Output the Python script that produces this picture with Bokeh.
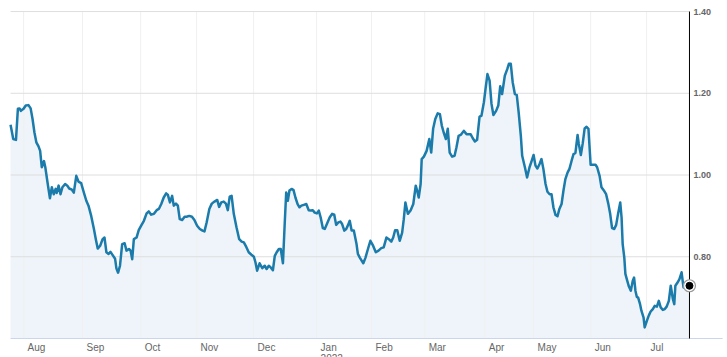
from bokeh.plotting import figure
from bokeh.models import Range1d
from bokeh.core.properties import value
from bokeh.embed import file_html
from bokeh.resources import INLINE

# trading-day index since start (late Jul 2021) and closing values
days = [0, 1.0, 2.0, 2.7, 3.3, 3.8, 4.8, 5.6, 6.6, 7.4, 8.1, 8.8, 9.5, 10.3, 10.9, 11.5, 12.3, 12.8, 13.7, 14.5,
        15.2, 15.9, 16.6, 17.0, 17.7, 18.4, 19.1, 20.1, 20.9, 21.6, 22.6, 23.3, 24.2, 25.0, 26.0, 27.0, 27.9, 28.7,
        29.7, 30.7, 31.4, 32.1, 33.0, 33.9, 34.6, 35.3, 36.1, 36.8, 37.6, 38.5, 39.0, 39.6, 40.3, 41.1, 42.0, 42.7,
        43.6, 44.2, 44.8, 45.4, 46.4, 47.2, 48.1, 49.1, 50.1, 50.9, 51.8, 52.8, 53.8, 54.6, 55.5, 56.4, 57.3, 57.9,
        58.7, 59.5, 60.1, 60.9, 61.6, 62.3, 63.2, 64.1, 64.8, 65.8, 66.8, 67.7, 68.7, 69.7, 70.7, 71.4, 72.2, 73.2,
        74.1, 75.1, 76.1, 76.8, 77.6, 78.5, 79.3, 80.0, 80.7, 81.4, 82.2, 83.2, 84.2, 85.1, 85.9, 86.8, 87.7, 88.7,
        89.6, 90.2, 90.8, 91.7, 92.7, 93.6, 94.3, 95.1, 95.8, 96.6, 97.3, 98.0, 98.8, 99.5, 100.3, 101.0, 101.5,
        102.1, 102.7, 103.5, 104.2, 104.9, 105.7, 106.4, 107.1, 108.0, 108.9, 109.8, 110.6, 111.3, 112.0, 112.8,
        113.5, 114.2, 115.0, 115.7, 116.6, 117.5, 118.4, 119.2, 119.9, 120.7, 121.5, 122.1, 122.9, 123.6, 124.3,
        124.9, 125.6, 126.4, 127.4, 127.9, 128.6, 129.9, 130.7, 131.6, 132.5, 133.5, 134.5, 135.5, 136.5, 137.4,
        138.4, 139.3, 140.2, 140.9, 141.6, 142.4, 143.3, 144.2, 144.8, 145.4, 146.3, 147.3, 148.3, 149.2, 149.7,
        150.3, 151.0, 151.4, 152.2, 153.2, 154.2, 154.9, 155.6, 156.4, 157.3, 158.1, 158.8, 159.5, 160.3, 161.0,
        161.7, 162.6, 163.5, 164.2, 165.0, 165.9, 166.9, 167.9, 168.9, 169.4, 170.2, 171.0, 171.8, 172.7, 173.4,
        174.3, 174.9, 175.6, 176.4, 177.1, 177.8, 178.8, 179.6, 180.3, 181.0, 182.0, 182.9, 183.5, 184.2, 184.9,
        185.7, 186.4, 187.1, 187.9, 188.4, 189.4, 190.2, 191.1, 191.8, 192.6, 193.3, 194.0, 194.8, 195.5, 196.2,
        197.0, 197.7, 198.5, 199.2, 199.9, 200.7, 201.4, 202.1, 202.9, 203.6, 204.3, 205.1, 205.8, 206.6, 207.3,
        208.0, 208.8, 209.2, 210.0, 210.7, 211.4, 212.1, 212.8, 213.6, 214.4, 215.4, 216.0, 216.9, 217.6, 218.4,
        219.3, 220.1, 220.8, 221.5, 222.3, 223.0, 223.7, 224.5, 225.0, 225.4, 226.0, 226.4, 227.1, 227.7, 228.4,
        229.1, 229.6, 230.1, 230.6, 231.1, 231.8, 232.3, 233.1, 233.5, 234.3, 235.0, 235.7, 236.5, 237.2, 238.0,
        238.7, 239.4, 240.2, 240.9, 241.6, 242.4, 243.1, 243.9, 244.4, 244.8, 245.6, 246.3, 247.1, 247.8, 248.5,
        249.3, 250.0]
values = [1.123, 1.088, 1.086, 1.162, 1.163, 1.157, 1.162, 1.170, 1.171, 1.163, 1.137, 1.104, 1.080, 1.070, 1.059,
          1.019, 1.034, 1.019, 0.978, 0.943, 0.970, 0.953, 0.966, 0.956, 0.974, 0.953, 0.970, 0.978, 0.974, 0.967,
          0.964, 0.957, 0.998, 0.984, 0.980, 0.957, 0.937, 0.925, 0.900, 0.868, 0.843, 0.820, 0.827, 0.843, 0.847,
          0.811, 0.807, 0.812, 0.804, 0.795, 0.771, 0.761, 0.778, 0.831, 0.833, 0.815, 0.819, 0.815, 0.794, 0.843,
          0.847, 0.865, 0.876, 0.888, 0.906, 0.911, 0.903, 0.905, 0.914, 0.917, 0.929, 0.945, 0.955, 0.952, 0.933,
          0.949, 0.925, 0.930, 0.925, 0.892, 0.890, 0.898, 0.898, 0.900, 0.898, 0.890, 0.876, 0.868, 0.864, 0.862,
          0.884, 0.917, 0.930, 0.935, 0.939, 0.922, 0.933, 0.935, 0.930, 0.914, 0.947, 0.949, 0.905, 0.872, 0.843,
          0.837, 0.835, 0.824, 0.811, 0.805, 0.800, 0.786, 0.766, 0.784, 0.772, 0.778, 0.770, 0.778, 0.774, 0.767,
          0.802, 0.811, 0.819, 0.819, 0.784, 0.888, 0.957, 0.937, 0.962, 0.966, 0.963, 0.945, 0.929, 0.921, 0.925,
          0.927, 0.929, 0.914, 0.913, 0.914, 0.908, 0.906, 0.913, 0.896, 0.870, 0.868, 0.882, 0.896, 0.905, 0.903,
          0.878, 0.884, 0.886, 0.880, 0.864, 0.868, 0.878, 0.888, 0.864, 0.864, 0.831, 0.807, 0.798, 0.784, 0.798,
          0.819, 0.839, 0.827, 0.811, 0.815, 0.821, 0.823, 0.847, 0.843, 0.837, 0.847, 0.865, 0.865, 0.839, 0.859,
          0.892, 0.933, 0.905, 0.913, 0.929, 0.974, 0.962, 0.945, 0.978, 1.039, 1.045, 1.059, 1.088, 1.055, 1.113,
          1.137, 1.151, 1.149, 1.121, 1.104, 1.088, 1.113, 1.055, 1.045, 1.047, 1.068, 1.096, 1.099, 1.108, 1.100,
          1.100, 1.100, 1.090, 1.082, 1.086, 1.143, 1.145, 1.178, 1.211, 1.247, 1.231, 1.174, 1.147, 1.157, 1.170,
          1.217, 1.198, 1.243, 1.259, 1.272, 1.272, 1.227, 1.198, 1.196, 1.153, 1.096, 1.047, 1.019, 0.994, 1.019,
          1.033, 1.049, 1.023, 1.016, 1.027, 1.039, 1.015, 0.978, 0.959, 0.953, 0.953, 0.921, 0.902, 0.899, 0.917,
          0.929, 0.962, 0.990, 1.006, 1.015, 1.035, 1.051, 1.054, 1.098, 1.078, 1.049, 1.078, 1.114, 1.118, 1.113,
          1.025, 1.025, 1.025, 1.019, 0.998, 0.970, 0.963, 0.953, 0.930, 0.905, 0.870, 0.868, 0.878, 0.905, 0.933,
          0.896, 0.831, 0.798, 0.758, 0.741, 0.727, 0.717, 0.741, 0.749, 0.717, 0.702, 0.700, 0.684, 0.668, 0.651,
          0.627, 0.643, 0.656, 0.666, 0.672, 0.680, 0.678, 0.692, 0.676, 0.670, 0.672, 0.678, 0.692, 0.729, 0.696,
          0.684, 0.729, 0.737, 0.745, 0.762, 0.725, 0.733, 0.737, 0.729]

month_pos = [4.8, 26.5, 47.9, 68.5, 89.5, 112.7, 132.9, 152.5, 174.6, 192.6, 213.6, 234.2]
month_labels = ["Aug", "Sep", "Oct", "Nov", "Dec", "Jan", "Feb", "Mar", "Apr", "May", "Jun", "Jul"]
year_label = ["2022"]
year_pos = [month_pos[5]]
y_ticks = [0.80, 1.00, 1.20, 1.40]
y_tick_labels = ["0.80", "1.00", "1.20", "1.40"]
y_min, y_max = 0.60, 1.40

LINE = "#1b7bab"
FILL = "#eef4f9"
TXT = "#666666"
FONT = "Liberation Sans"

x0, x1 = days[0], days[-1]
p = figure(width=727, height=357, output_backend="svg", toolbar_location=None,
           x_range=Range1d(x0 - 3.7, x1 + 14.0), y_range=Range1d(y_min - 0.0465, y_max + 0.027),
           min_border=0, x_axis_location=None, y_axis_location=None)
p.outline_line_color = None
p.grid.visible = False
p.background_fill_color = "white"
p.border_fill_color = "white"

# area fill
p.varea(x=days, y1=y_min, y2=values, fill_color=FILL)

# grid lines
p.segment(x0=month_pos, x1=month_pos, y0=y_min, y1=y_max, line_color="#f0f0f0", line_width=1)
p.segment(x0=x0, x1=x1, y0=y_ticks, y1=y_ticks, line_color="#dedede", line_width=1)

# x axis line and right-hand y axis line
p.segment(x0=x0, x1=x1 + 12.2, y0=y_min, y1=y_min, line_color="#ccd6eb", line_width=1)
p.segment(x0=x1, x1=x1, y0=y_min, y1=y_max, line_color="black", line_width=1)

# series line
p.line(days, values, line_color=LINE, line_width=2.5, line_join="round")

# end marker
p.scatter([x1], [values[-1]], size=12, fill_color="white", line_color="#999999", line_width=1.2)
p.scatter([x1], [values[-1]], size=7, fill_color="black", line_color="black")

# y tick labels
p.text(x=[x1] * len(y_ticks), y=y_ticks, text=y_tick_labels, x_offset=4, text_align="left",
       text_baseline="middle", text_font=value(FONT), text_font_size="9px", text_font_style="bold",
       text_color=TXT)

# month labels
p.text(x=month_pos, y=[y_min] * len(month_pos), text=month_labels, x_offset=4, y_offset=9,
       text_align="left", text_baseline="middle", text_font=value(FONT), text_font_size="10px",
       text_color=TXT)
p.text(x=year_pos, y=[y_min], text=year_label, x_offset=4, y_offset=16, text_align="left",
       text_baseline="top", text_font=value(FONT), text_font_size="10px", text_color=TXT)

open("out.html", "w").write(file_html(p, INLINE))
